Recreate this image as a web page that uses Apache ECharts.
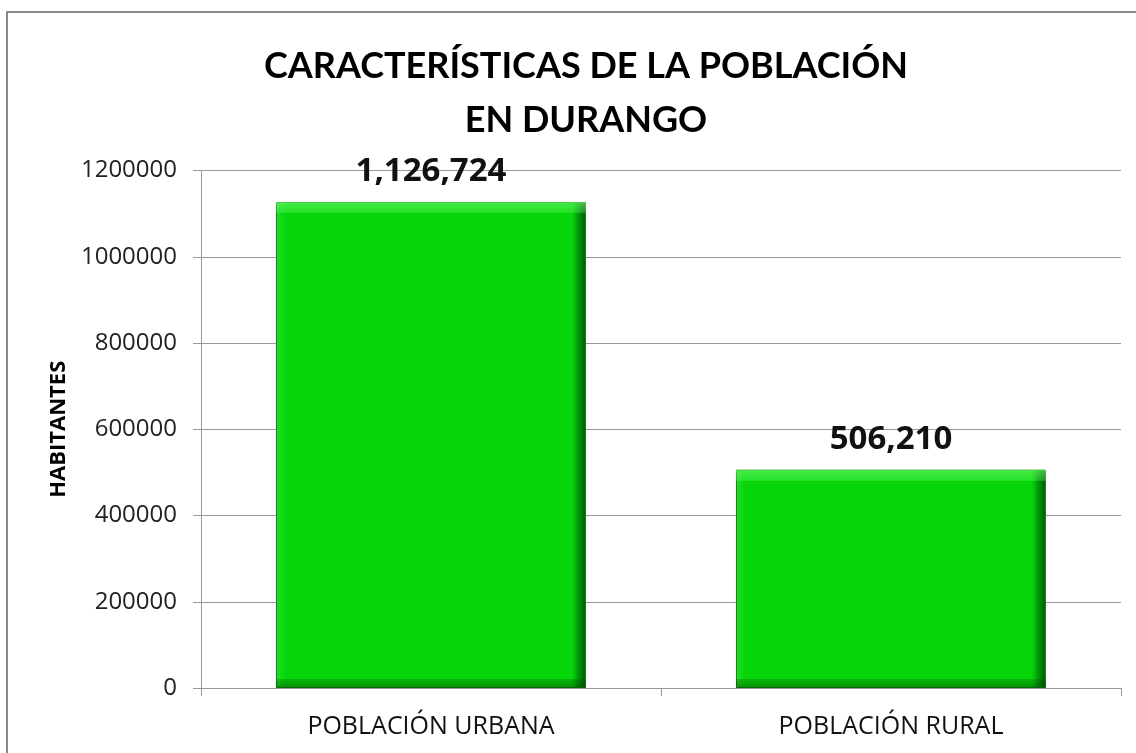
<!DOCTYPE html>
<html><head><meta charset="utf-8">
<script src="https://cdn.jsdelivr.net/npm/echarts@6/dist/echarts.min.js"></script>
<style>html,body{margin:0;padding:0;background:#fff}#c{width:1136px;height:753px}</style>
</head><body><div id="c"></div>
<script>
var categories = ['POBLACIÓN URBANA', 'POBLACIÓN RURAL'];
var habitantes = [1126724, 506210];
var yTicks = [0, 200000, 400000, 600000, 800000, 1000000, 1200000];
var titleText = 'CARACTERÍSTICAS DE LA POBLACIÓN\nEN DURANGO';
var yName = 'HABITANTES';

var chart = echarts.init(document.getElementById('c'), null, {renderer: 'canvas'});
var fmt = function (v) { return String(v).replace(/\B(?=(\d{3})+(?!\d))/g, ','); };
var yMax = yTicks[yTicks.length - 1];
var plotH = 753 - 170.5 - 65;
// vertical bevel overlay: light strip at top, dark strip at bottom (fixed px size)
var bevel = habitantes.map(function (v) {
  var h = v / yMax * plotH;
  var t = Math.min(0.3, 11 / h), b = Math.min(0.3, 9 / h);
  return {
    value: v,
    itemStyle: {
      color: new echarts.graphic.LinearGradient(0, 0, 0, 1, [
        {offset: 0, color: 'rgba(120,255,120,0.55)'},
        {offset: t, color: 'rgba(120,255,120,0.25)'},
        {offset: t + 0.0001, color: 'rgba(0,0,0,0)'},
        {offset: 1 - b - 0.0001, color: 'rgba(0,0,0,0)'},
        {offset: 1 - b, color: 'rgba(0,60,0,0.2)'},
        {offset: 1, color: 'rgba(0,60,0,0.45)'}
      ])
    }
  };
});
chart.setOption({
  backgroundColor: '#fff',
  animation: false,
  title: {
    text: titleText, left: 581, top: 34, textAlign: 'center',
    textStyle: {fontFamily: 'Lato', fontWeight: 'bold', fontSize: 36, lineHeight: 54, color: '#000'}
  },
  graphic: [{
    type: 'rect', shape: {x: 7, y: 12, width: 1140, height: 760},
    style: {fill: 'none', stroke: '#888', lineWidth: 2}, silent: true
  }],
  grid: {left: 201, top: 170.5, right: 15, bottom: 65},
  xAxis: {
    type: 'category', data: categories,
    axisLine: {show: true, lineStyle: {color: '#999', width: 1}},
    axisTick: {show: true, length: 8, lineStyle: {color: '#999'}},
    axisLabel: {fontFamily: 'Open Sans', fontSize: 25, color: '#111', margin: 26}
  },
  yAxis: {
    type: 'value', min: yTicks[0], max: yMax, interval: yTicks[1] - yTicks[0],
    name: yName, nameLocation: 'middle', nameGap: 130, nameRotate: 90,
    nameTextStyle: {fontFamily: 'Open Sans', fontWeight: 'bold', fontSize: 22, color: '#000'},
    axisLine: {show: true, lineStyle: {color: '#999', width: 1}},
    axisTick: {show: true, length: 8, lineStyle: {color: '#999'}},
    splitLine: {show: true, lineStyle: {color: '#999', width: 1}},
    axisLabel: {fontFamily: 'Open Sans', fontSize: 24, color: '#222', margin: 24,
      formatter: function (v) { return String(v); }}
  },
  series: [{
    type: 'bar', data: habitantes, barCategoryGap: '32.6%', z: 2,
    itemStyle: {
      color: new echarts.graphic.LinearGradient(0, 0, 1, 0, [
        {offset: 0, color: '#1ee022'}, {offset: 0.03, color: '#07d60b'},
        {offset: 0.955, color: '#07d60b'}, {offset: 0.975, color: '#04960a'}, {offset: 1, color: '#025a04'}
      ]),
      borderColor: '#0a8a0c', borderWidth: 1
    },
    label: {
      show: true, position: 'top', distance: 14,
      formatter: function (p) { return fmt(p.value); },
      fontFamily: 'Open Sans', fontWeight: 'bold', fontSize: 33, color: '#111'
    }
  }, {
    type: 'bar', data: bevel, barGap: '-100%', barCategoryGap: '32.6%', z: 3, silent: true
  }]
});
</script></body></html>
